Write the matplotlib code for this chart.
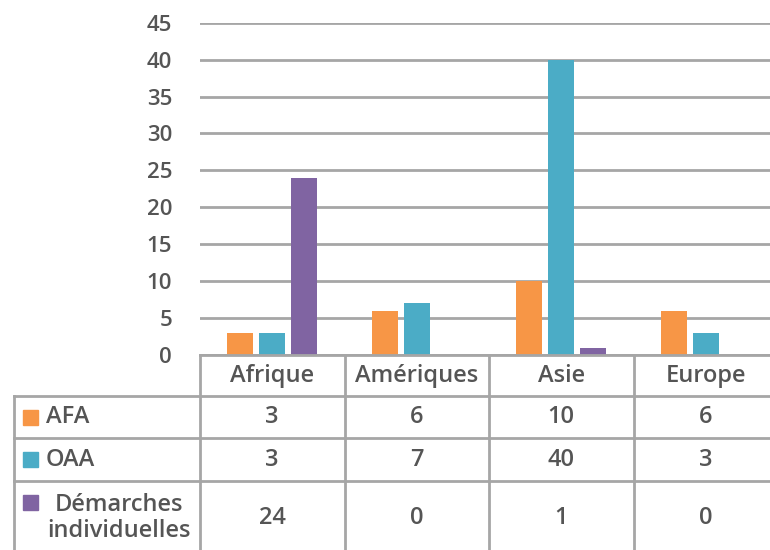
import matplotlib.pyplot as plt
from matplotlib.patches import Rectangle

# données
categories = ["Afrique", "Amériques", "Asie", "Europe"]
series_names = ["AFA", "OAA", "Démarches\nindividuelles"]
afa = [3, 6, 10, 6]
oaa = [3, 7, 40, 3]
demarches = [24, 0, 1, 0]
y_ticks = [0, 5, 10, 15, 20, 25, 30, 35, 40, 45]

colors = ["#F79646", "#4BACC6", "#8064A2"]
grid_col = "#A6A6A6"
text_col = "#555555"

plt.rcParams['font.family'] = ['Open Sans', 'DejaVu Sans']
plt.rcParams['font.weight'] = 'semibold'

W, H = 770, 550
fig = plt.figure(figsize=(W / 100, H / 100), dpi=100)


# conversion pixels -> fraction de figure
def fx(px):
    return px / W


def fy(py):
    return 1 - py / H


left, right = 200, 778
top, base = 22.7, 355
ax = fig.add_axes([fx(left), fy(base), fx(right) - fx(left), fy(top) - fy(base)])

series = [afa, oaa, demarches]
bar_w = 0.18
step = 0.222
for i, vals in enumerate(series):
    xs = [c + (i - 1) * step for c in range(len(categories))]
    ax.bar(xs, vals, width=bar_w, color=colors[i], zorder=3)

ax.set_xlim(-0.5, len(categories) - 0.5)
ax.set_ylim(0, 45)
ax.set_yticks(y_ticks)
ax.set_xticks([])
ax.yaxis.grid(True, color=grid_col, linewidth=2)
ax.set_axisbelow(True)
for s in ax.spines.values():
    s.set_visible(False)
ax.tick_params(axis='y', length=0, pad=20, labelsize=16, labelcolor=text_col)

# tableau de données sous le graphique
tab_left, tab_bottom = 14, 560
unit = (right - left) / len(categories)
x0 = -0.5 - (left - tab_left) / unit
tax = fig.add_axes([fx(tab_left), fy(tab_bottom), fx(right) - fx(tab_left), fy(base) - fy(tab_bottom)])
tax.set_xlim(x0, len(categories) - 0.5)
tax.set_ylim(tab_bottom, base)
tax.axis('off')

rows = [396, 438, 481]
row_bottom = 556
lw = 2
# lignes horizontales
tax.plot([-0.5, len(categories) - 0.5], [base, base], color=grid_col, lw=lw, clip_on=False)
for y in rows + [row_bottom]:
    tax.plot([x0, len(categories) - 0.5], [y, y], color=grid_col, lw=lw, clip_on=False)
# lignes verticales
tax.plot([x0, x0], [rows[0], row_bottom], color=grid_col, lw=lw, clip_on=False)
for k in range(len(categories) + 1):
    tax.plot([k - 0.5, k - 0.5], [base, row_bottom], color=grid_col, lw=lw, clip_on=False)

fs = 17
for k, cat in enumerate(categories):
    tax.text(k, (base + rows[0]) / 2, cat, ha='center', va='center', fontsize=fs, color=text_col)

row_centers = [(rows[0] + rows[1]) / 2, (rows[1] + rows[2]) / 2, 518]
for i, vals in enumerate(series):
    for k, v in enumerate(vals):
        tax.text(k, row_centers[i], str(v), ha='center', va='center', fontsize=fs, color=text_col)

# étiquettes des lignes avec carrés de légende
sq = 15
sq_x = x0 + (23 - tab_left) / unit
for i, name in enumerate(series_names):
    if i < 2:
        cy = row_centers[i]
        tax.text(x0 + (46 - tab_left) / unit, cy, name, ha='left', va='center', fontsize=fs, color=text_col)
    else:
        cy = 502
        tax.text(x0 + (119 - tab_left) / unit, row_centers[i], name, ha='center', va='center',
                 multialignment='center', fontsize=fs, color=text_col, linespacing=1.1)
    tax.add_patch(Rectangle((sq_x, cy - sq / 2), sq / unit, sq, color=colors[i], clip_on=False))

fig.savefig('out.png', dpi=100)
